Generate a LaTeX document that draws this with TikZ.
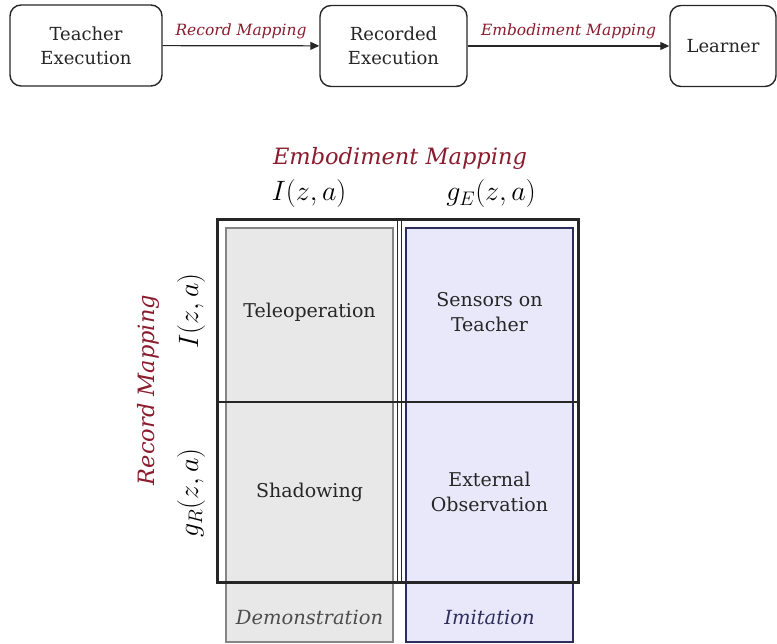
\documentclass[tikz,border=0pt]{standalone}
\usepackage{fix-cm}
\usepackage{fontspec}
\setmainfont{DejaVu Serif}
\usetikzlibrary{arrows.meta}
\definecolor{mapred}{HTML}{8A1C2E}
\definecolor{cellgray}{HTML}{E8E8E8}
\definecolor{cellgrayline}{HTML}{858585}
\definecolor{cellblue}{HTML}{E8E8FA}
\definecolor{cellblueline}{HTML}{2E2E5C}
\begin{document}
\begin{tikzpicture}[x=1pt,y=-1pt,
  flowbox/.style={draw=black!85,line width=1.4pt,rounded corners=11pt,font=\rmfamily\fontsize{18}{24}\selectfont,align=center,inner sep=0pt,text=black!85},
  maplbl/.style={font=\rmfamily\fontsize{15.5}{20}\selectfont\itshape,text=mapred},
  flowarrow/.style={line width=1.2pt,draw=black!85,-{Triangle[length=9pt,width=8pt]}},
  celltxt/.style={font=\rmfamily\fontsize{19}{25}\selectfont,align=center,text=black!85},
  mathlbl/.style={font=\fontsize{28}{30}\selectfont},
  grayarea/.style={fill=cellgray,draw=cellgrayline,line width=1.3pt},
  bluearea/.style={fill=cellblue,draw=cellblueline,line width=1.3pt}]
\useasboundingbox (0,0) rectangle (777,644);
% top flow
\node[flowbox,minimum width=152pt,minimum height=81pt] (teacher) at (86,45.5) {Teacher\\Execution};
\node[flowbox,minimum width=147pt,minimum height=81pt] (recorded) at (393.5,46) {Recorded\\Execution};
\node[flowbox,minimum width=106pt,minimum height=81pt] (learner) at (723,46) {Learner};
\draw[flowarrow] (teacher) -- node[maplbl,above=3pt] (reclbl) {Record Mapping} (recorded);
\draw[flowarrow] (recorded) -- node[maplbl,above=3pt] (emblbl) {Embodiment Mapping} (learner);
% columns
\draw[grayarea] (226,228) rectangle (393,642);
\draw[bluearea] (406,228) rectangle (573,642);
% grid
\draw[line width=1.2pt,black!85] (217,402) -- (578,402);
\draw[line width=1pt,black!85] (397.5,220) -- (397.5,582);
\draw[line width=1pt,black!85] (401,220) -- (401,582);
\draw[line width=3pt,black!85] (217,220) rectangle (578,582);
% headings
\node[font=\rmfamily\fontsize{22.5}{24}\selectfont\itshape,text=mapred] (embhead) at (400,158) {Embodiment Mapping};
\node[mathlbl] (colI) at (309,194) {$I(z,a)$};
\node[mathlbl] (colG) at (491,194) {$g_E(z,a)$};
\node[font=\rmfamily\fontsize{22.5}{24}\selectfont\itshape,text=mapred,rotate=90] (rechead) at (148,390) {Record Mapping};
\node[mathlbl,rotate=90] (rowI) at (191,311) {$I(z,a)$};
\node[mathlbl,rotate=90] (rowG) at (191,493) {$g_R(z,a)$};
% cells
\node[celltxt] (tele) at (309.5,312) {Teleoperation};
\node[celltxt] (sens) at (489.5,312) {Sensors on\\Teacher};
\node[celltxt] (shad) at (309.5,492) {Shadowing};
\node[celltxt] (ext) at (489.5,492) {External\\Observation};
\node[font=\rmfamily\fontsize{19.5}{20}\selectfont\itshape,text=black!70] (demo) at (309.5,617) {Demonstration};
\node[font=\rmfamily\fontsize{19.5}{20}\selectfont\itshape,text=cellblueline] (imit) at (489.5,617) {Imitation};
\end{tikzpicture}
\end{document}
